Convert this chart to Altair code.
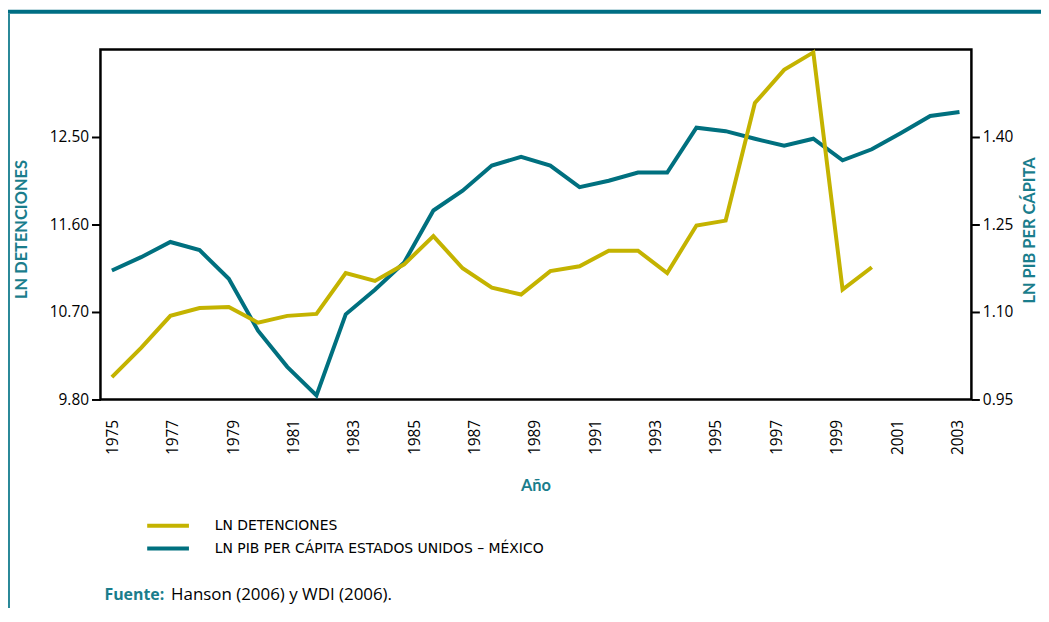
import altair as alt
import pandas as pd

TEAL = "#00707f"
YELLOW = "#c4b300"
TITLE_TEAL = "#1a7d8c"
BAND_TEAL = "#006e84"
LABEL_FONT = "Open Sans"
TEXT_FONT = "Lato"
SRC_FONT = "Open Sans"

# ---- data ----
tick_years = [1975, 1977, 1979, 1981, 1983, 1985, 1987, 1989, 1991, 1993,
              1995, 1997, 1999, 2001, 2003]

det_years = [1975, 1976, 1977, 1978, 1979, 1980, 1981, 1982, 1983, 1984,
             1985, 1986, 1987, 1988, 1989, 1990, 1991, 1992, 1993, 1994,
             1995, 1996, 1997, 1998, 1999, 2000, 2001]
det_values = [10.03, 10.33, 10.66, 10.74, 10.75, 10.59, 10.66, 10.68, 11.10, 11.02,
              11.19, 11.48, 11.15, 10.95, 10.88, 11.12, 11.17, 11.33, 11.33, 11.10,
              11.59, 11.64, 12.85, 13.19, 13.37, 10.93, 11.16]

pib_years = [1975, 1976, 1977, 1978, 1979, 1980, 1981, 1982, 1983, 1984,
             1985, 1986, 1987, 1988, 1989, 1990, 1991, 1992, 1993, 1994,
             1995, 1996, 1997, 1998, 1999, 2000, 2001, 2002, 2003, 2004]
pib_values = [1.171, 1.194, 1.220, 1.206, 1.157, 1.068, 1.006, 0.957, 1.096, 1.138,
              1.185, 1.274, 1.308, 1.351, 1.366, 1.351, 1.314, 1.325, 1.339, 1.339,
              1.416, 1.410, 1.397, 1.385, 1.397, 1.360, 1.379, 1.407, 1.436, 1.443]

left_ticks = [9.80, 10.70, 11.60, 12.50]
right_ticks = [0.95, 1.10, 1.25, 1.40]

left_title = "LN DETENCIONES"
right_title = "LN PIB PER CÁPITA"
x_title = "Año"
legend_labels = ["LN DETENCIONES", "LN PIB PER CÁPITA ESTADOS UNIDOS – MÉXICO"]
source_label = "Fuente:"
source_text = "Hanson (2006) y WDI (2006)."

det_df = pd.DataFrame({"year": det_years, "value": det_values})
pib_df = pd.DataFrame({"year": pib_years, "value": pib_values})
tick_df = pd.DataFrame({"year": tick_years})
one = pd.DataFrame({"k": [0]})

line_x_scale = alt.Scale(domain=[1974.609, 2004.408], nice=False, zero=False)

# x axis (year labels) layer
axis_layer = alt.Chart(tick_df).mark_point(opacity=0).encode(
    x=alt.X("year:Q",
            scale=alt.Scale(domain=[1974.605, 2003.461], nice=False, zero=False),
            axis=alt.Axis(values=tick_years, format="d", labelAngle=270,
                          labelPadding=20, ticks=False, domain=False, grid=False,
                          title=None, labelFont=LABEL_FONT, labelFontSize=15.5,
                          labelColor="black"))
)

teal_line = alt.Chart(pib_df).mark_line(color=TEAL, strokeWidth=4).encode(
    x=alt.X("year:Q", scale=line_x_scale, axis=None),
    y=alt.Y("value:Q",
            scale=alt.Scale(domain=[0.95, 1.55], nice=False, zero=False),
            axis=alt.Axis(orient="right", values=right_ticks, format=".2f",
                          tickSize=8, tickWidth=2, tickColor="black",
                          domain=False, grid=False, labelPadding=3, title=None,
                          labelFont=LABEL_FONT, labelFontSize=15.5,
                          labelColor="black"))
)

yellow_line = alt.Chart(det_df).mark_line(color=YELLOW, strokeWidth=4).encode(
    x=alt.X("year:Q", scale=line_x_scale, axis=None),
    y=alt.Y("value:Q",
            scale=alt.Scale(domain=[9.8, 13.4], nice=False, zero=False),
            axis=alt.Axis(orient="left", values=left_ticks, format=".2f",
                          tickSize=9, tickWidth=2, tickColor="black",
                          domain=False, grid=False, labelPadding=3, title=None,
                          labelFont=LABEL_FONT, labelFontSize=15.5,
                          labelColor="black"))
)

# decorations
band = alt.Chart(one).mark_rect(color=BAND_TEAL).encode(
    x=alt.value(-93), x2=alt.value(946), y=alt.value(-40), y2=alt.value(-36))
border = alt.Chart(one).mark_rect(color="#2a8898").encode(
    x=alt.value(-93), x2=alt.value(-91), y=alt.value(-36), y2=alt.value(562))


def text_at(txt, x, y, angle=0, bold=False, color="black", size=15,
            align="left", font=TEXT_FONT):
    return alt.Chart(one).mark_text(
        text=txt, font=font, fontSize=size,
        fontWeight="bold" if bold else "normal", color=color,
        align=align, baseline="middle", angle=angle,
    ).encode(x=alt.value(x), y=alt.value(y))


t_left = text_at(left_title, -79, 181, angle=270, bold=True, color=TITLE_TEAL,
                 align="center", size=16.5)
t_right = text_at(right_title, 935, 182, angle=270, bold=True, color=TITLE_TEAL,
                  align="center", size=16.5)
t_x = text_at(x_title, 438, 439, bold=True, color=TITLE_TEAL, align="center",
              size=16.5)

leg1 = alt.Chart(one).mark_rule(color=YELLOW, strokeWidth=4).encode(
    x=alt.value(47), x2=alt.value(89), y=alt.value(479))
leg2 = alt.Chart(one).mark_rule(color=TEAL, strokeWidth=4).encode(
    x=alt.value(47), x2=alt.value(89), y=alt.value(502))
leg1_t = text_at(legend_labels[0], 115, 479, size=14, font="DejaVu Sans")
leg2_t = text_at(legend_labels[1], 115, 502, size=14, font="DejaVu Sans")

src1 = text_at(source_label, 4, 549, bold=True, color=TITLE_TEAL, size=16,
               font=SRC_FONT)
src2 = text_at(source_text, 71, 549, size=17, font=SRC_FONT)

chart = alt.layer(
    axis_layer, teal_line, yellow_line,
    band, border, t_left, t_right, t_x,
    leg1, leg2, leg1_t, leg2_t, src1, src2
).resolve_scale(
    x="independent", y="independent"
).properties(
    width=876, height=352,
    autosize=alt.AutoSizeParams(type="none"),
    padding={"left": 93, "top": 40, "right": 70, "bottom": 208},
    background="white",
).configure_view(
    stroke="black", strokeWidth=2.5
)

chart.save("out.html", embed_options={"renderer": "svg", "actions": False})
